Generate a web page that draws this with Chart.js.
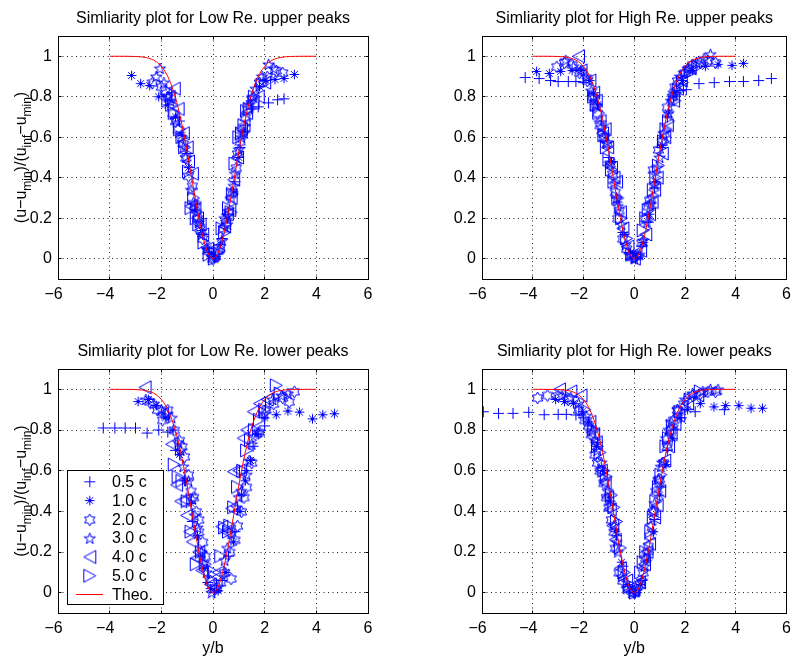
<!DOCTYPE html>
<html>
<head>
<meta charset="utf-8">
<script src="https://cdn.jsdelivr.net/npm/chart.js@4.4.0/dist/chart.umd.min.js"></script>
<style>
  html, body { margin: 0; padding: 0; background: #fff; }
  #wrap { position: relative; width: 797px; height: 660px; overflow: hidden; background: #fff; }
  #wrap canvas { position: absolute; }
</style>
</head>
<body>
<div id="wrap">
  <canvas id="p1" width="400" height="330" style="left:0;top:0"></canvas>
  <canvas id="p2" width="397" height="330" style="left:400px;top:0"></canvas>
  <canvas id="p3" width="400" height="330" style="left:0;top:330px"></canvas>
  <canvas id="p4" width="397" height="330" style="left:400px;top:330px"></canvas>
</div>
<script>
// ---- data ----
const TICKS_X = [-6, -4, -2, 0, 2, 4, 6];
const TICKS_Y = [0, 0.2, 0.4, 0.6, 0.8, 1];
const SERIES = ['0.5 c', '1.0 c', '2.0 c', '3.0 c', '4.0 c', '5.0 c'];
const THEO_LABEL = 'Theo.';
const TITLES = [
  'Simliarity plot for Low Re. upper peaks',
  'Simliarity plot for High Re. upper peaks',
  'Simliarity plot for Low Re. lower peaks',
  'Simliarity plot for High Re. lower peaks'
];

// theoretical profile (red line)
const THEO_X = [-4, -3.8, -3.6, -3.4, -3.2, -3, -2.8, -2.6, -2.4, -2.2, -2, -1.8, -1.6, -1.4, -1.2, -1, -0.8, -0.6, -0.4, -0.2, 0,
  0.2, 0.4, 0.6, 0.8, 1, 1.2, 1.4, 1.6, 1.8, 2, 2.2, 2.4, 2.6, 2.8, 3, 3.2, 3.4, 3.6, 3.8, 4];
const THEO_Y = [1, 1, 1, 0.9998, 0.9995, 0.9988, 0.9972, 0.9938, 0.9867, 0.9734, 0.9502, 0.9121, 0.8535, 0.7712, 0.6603, 0.5276, 0.3812, 0.2366, 0.1131, 0.0296, 0,
  0.0296, 0.1131, 0.2366, 0.3812, 0.5276, 0.6603, 0.7712, 0.8535, 0.9121, 0.9502, 0.9734, 0.9867, 0.9938, 0.9972, 0.9988, 0.9995, 0.9998, 1, 1, 1];

// Low Re. upper peaks  [y/b, value]
const lowUp_c05 = [[-1.6,0.82],[-1.3,0.68],[-1.0,0.52],[-0.7,0.27],[-0.4,0.12],[-0.15,0.03],[0.1,0.01],[0.35,0.1],[0.6,0.22],[0.85,0.38],[1.05,0.55],[1.25,0.66],[1.5,0.74],[1.75,0.75],[2.15,0.77],[2.5,0.785],[2.75,0.79]];
const lowUp_c10 = [[-3.15,0.905],[-2.8,0.865],[-2.45,0.855],[-2.1,0.8],[-1.75,0.76],[-1.45,0.7],[-1.2,0.61],[-0.95,0.45],[-0.7,0.24],[-0.45,0.14],[-0.2,0.05],[0.05,0.0],[0.3,0.07],[0.55,0.2],[0.8,0.33],[1.0,0.5],[1.2,0.63],[1.45,0.78],[1.8,0.85],[2.05,0.88],[2.4,0.885],[2.75,0.89],[3.15,0.91]];
const lowUp_c20 = [[-2.35,0.87],[-2.0,0.85],[-1.85,0.83],[-1.75,0.8],[-1.55,0.72],[-1.45,0.68],[-1.35,0.64],[-1.15,0.57],[-1.05,0.5],[-0.95,0.41],[-0.8,0.36],[-0.7,0.26],[-0.6,0.2],[-0.5,0.15],[-0.4,0.1],[-0.2,0.04],[0.0,0.0],[0.2,0.04],[0.4,0.15],[0.5,0.18],[0.6,0.23],[0.75,0.33],[0.9,0.45],[0.95,0.52],[1.05,0.58],[1.25,0.7],[1.35,0.74],[1.5,0.79],[1.8,0.87],[2.1,0.9],[2.45,0.93],[2.7,0.92]];
const lowUp_c30 = [[-2.05,0.94],[-2.2,0.9],[-1.9,0.87],[-1.75,0.8],[-1.65,0.78],[-1.45,0.69],[-1.25,0.6],[-1.15,0.55],[-1.05,0.5],[-0.85,0.34],[-0.75,0.28],[-0.65,0.23],[-0.55,0.18],[-0.45,0.12],[-0.25,0.05],[-0.05,0.01],[0.15,0.02],[0.35,0.09],[0.45,0.2],[0.55,0.17],[0.7,0.3],[0.8,0.36],[0.85,0.42],[1.0,0.54],[1.1,0.6],[1.2,0.62],[1.4,0.76],[1.55,0.8],[1.65,0.84],[1.9,0.9],[2.15,0.96],[2.35,0.94]];
const lowUp_c40 = [[-1.7,0.8],[-1.5,0.84],[-1.35,0.74],[-1.15,0.62],[-1.0,0.55],[-0.95,0.48],[-0.8,0.42],[-0.85,0.26],[-0.7,0.25],[-0.6,0.2],[-0.5,0.17],[-0.4,0.12],[-0.2,0.05],[0.0,0.02],[0.2,0.06],[0.45,0.16],[0.55,0.22],[0.65,0.24],[0.7,0.3],[0.8,0.39],[0.95,0.5],[1.1,0.64],[1.2,0.66],[1.3,0.72],[1.55,0.77],[1.75,0.8],[2.0,0.87]];
const lowUp_c50 = [[-1.75,0.78],[-1.6,0.76],[-1.5,0.72],[-1.3,0.64],[-1.2,0.6],[-1.1,0.55],[-0.95,0.43],[-0.85,0.25],[-0.75,0.3],[-0.65,0.2],[-0.55,0.17],[-0.35,0.08],[-0.15,0.02],[0.05,0.0],[0.25,0.04],[0.35,0.15],[0.45,0.13],[0.6,0.25],[0.7,0.23],[0.75,0.32],[0.85,0.47],[1.0,0.6],[1.1,0.62],[1.2,0.66],[1.3,0.73],[1.4,0.74],[1.6,0.8],[1.9,0.86]];

// High Re. upper peaks
const highUp_c05 = [[-4.3,0.895],[-3.75,0.89],[-3.3,0.88],[-3.0,0.875],[-2.6,0.875],[-2.3,0.875],[-2.0,0.87],[-1.6,0.82],[-1.3,0.68],[-1.0,0.5],[-0.7,0.3],[-0.45,0.13],[-0.2,0.03],[0.05,0.0],[0.3,0.06],[0.55,0.18],[0.8,0.35],[1.05,0.55],[1.3,0.7],[1.55,0.8],[1.8,0.83],[2.05,0.835],[2.55,0.865],[3.15,0.87],[3.75,0.875],[4.3,0.875],[4.9,0.88],[5.4,0.89]];
const highUp_c10 = [[-3.85,0.925],[-3.35,0.915],[-2.9,0.925],[-2.45,0.93],[-2.1,0.93],[-1.75,0.88],[-1.45,0.76],[-1.15,0.62],[-0.9,0.48],[-0.65,0.28],[-0.4,0.12],[-0.15,0.03],[0.1,0.01],[0.35,0.08],[0.6,0.22],[0.85,0.38],[1.1,0.56],[1.35,0.72],[1.6,0.82],[1.9,0.88],[2.3,0.93],[2.8,0.95],[3.3,0.96],[3.85,0.955],[4.3,0.965]];
const highUp_c20 = [[-3.05,0.95],[-2.75,0.97],[-2.45,0.96],[-2.15,0.92],[-1.85,0.88],[-1.65,0.8],[-1.55,0.75],[-1.45,0.72],[-1.35,0.66],[-1.2,0.6],[-1.05,0.57],[-0.95,0.47],[-0.85,0.42],[-0.75,0.33],[-0.65,0.2],[-0.6,0.24],[-0.45,0.1],[-0.3,0.05],[-0.1,0.01],[0.1,0.02],[0.3,0.08],[0.45,0.2],[0.55,0.26],[0.6,0.29],[0.75,0.44],[0.95,0.54],[1.1,0.58],[1.2,0.62],[1.3,0.75],[1.5,0.8],[1.6,0.85],[1.7,0.88],[2.0,0.92],[2.15,0.94],[2.3,0.96],[2.6,0.97],[2.9,0.98],[3.2,0.97]];
const highUp_c30 = [[-2.7,0.98],[-2.4,0.95],[-2.1,0.93],[-1.9,0.9],[-1.7,0.83],[-1.6,0.8],[-1.5,0.76],[-1.3,0.65],[-1.2,0.6],[-1.1,0.57],[-0.95,0.47],[-0.8,0.37],[-0.7,0.3],[-0.65,0.26],[-0.5,0.17],[-0.35,0.07],[-0.2,0.02],[0.0,0.0],[0.2,0.02],[0.35,0.09],[0.5,0.18],[0.65,0.27],[0.7,0.3],[0.8,0.37],[0.9,0.45],[1.0,0.5],[1.15,0.62],[1.35,0.72],[1.45,0.78],[1.55,0.82],[1.8,0.9],[1.95,0.92],[2.1,0.94],[2.45,0.97],[2.75,0.99],[3.0,1.01]];
const highUp_c40 = [[-2.2,1.0],[-2.1,0.93],[-1.75,0.88],[-1.6,0.82],[-1.5,0.78],[-1.35,0.68],[-1.25,0.62],[-1.15,0.64],[-1.05,0.55],[-0.9,0.45],[-0.8,0.4],[-0.7,0.38],[-0.55,0.23],[-0.45,0.15],[-0.25,0.06],[0.0,0.0],[0.25,0.04],[0.45,0.12],[0.6,0.22],[0.7,0.28],[0.8,0.34],[0.9,0.4],[1.1,0.52],[1.2,0.6],[1.3,0.66],[1.55,0.78],[1.7,0.84],[1.85,0.88],[2.2,0.94]];
const highUp_c50 = [[-1.6,0.8],[-1.5,0.76],[-1.4,0.72],[-1.2,0.61],[-1.1,0.55],[-1.0,0.49],[-0.9,0.44],[-0.8,0.38],[-0.65,0.3],[-0.5,0.2],[-0.3,0.1],[-0.1,0.02],[0.15,0.01],[0.35,0.14],[0.45,0.2],[0.55,0.24],[0.75,0.34],[0.85,0.4],[0.95,0.46],[1.15,0.58],[1.25,0.64],[1.35,0.68],[1.6,0.78],[1.75,0.83],[1.9,0.87],[2.2,0.92],[2.5,0.95]];

// Low Re. lower peaks
const lowLo_c05 = [[-4.25,0.81],[-3.8,0.81],[-3.4,0.81],[-3.0,0.81],[-2.55,0.785],[-2.1,0.8],[-1.75,0.79],[-1.45,0.7],[-1.1,0.55],[-0.8,0.35],[-0.5,0.18],[-0.2,0.05],[0.05,0.0],[0.35,0.06],[0.6,0.18],[0.85,0.3],[1.1,0.48],[1.3,0.6],[1.55,0.72],[1.75,0.78],[2.0,0.82]];
const lowLo_c10 = [[-2.9,0.94],[-2.5,0.95],[-2.2,0.92],[-1.85,0.86],[-1.55,0.8],[-1.3,0.68],[-1.05,0.55],[-0.85,0.44],[-0.6,0.28],[-0.35,0.12],[-0.1,0.02],[0.2,0.01],[0.5,0.1],[0.8,0.25],[1.05,0.4],[1.25,0.55],[1.45,0.65],[1.7,0.78],[2.0,0.86],[2.45,0.875],[2.9,0.893],[3.35,0.888],[3.85,0.855],[4.25,0.875],[4.7,0.88]];
const lowLo_c20 = [[-2.45,0.94],[-2.15,0.9],[-1.95,0.85],[-1.75,0.9],[-1.5,0.8],[-1.3,0.75],[-1.2,0.72],[-1.1,0.67],[-0.95,0.58],[-0.85,0.5],[-0.75,0.47],[-0.65,0.4],[-0.55,0.36],[-0.55,0.3],[-0.4,0.25],[-0.3,0.18],[-0.1,0.06],[0.1,0.02],[0.3,0.05],[0.45,0.1],[0.7,0.07],[0.65,0.2],[0.85,0.26],[0.95,0.33],[1.1,0.4],[1.2,0.47],[1.3,0.52],[1.5,0.64],[1.8,0.79],[2.05,0.9],[2.35,0.93],[2.7,0.96],[2.95,0.94],[3.15,0.99]];
const lowLo_c30 = [[-2.6,0.95],[-2.3,0.93],[-2.0,0.9],[-1.8,0.88],[-1.6,0.86],[-1.35,0.74],[-1.25,0.7],[-1.15,0.62],[-0.95,0.55],[-0.8,0.46],[-0.7,0.38],[-0.6,0.32],[-0.45,0.2],[-0.35,0.15],[-0.25,0.1],[-0.05,0.0],[0.2,0.03],[0.45,0.16],[0.55,0.22],[0.7,0.29],[0.9,0.42],[1.0,0.47],[1.1,0.5],[1.3,0.58],[1.4,0.65],[1.5,0.73],[1.75,0.79],[2.0,0.88],[2.3,0.95],[2.65,0.97],[2.9,0.98]];
const lowLo_c40 = [[-2.63,1.01],[-1.95,0.88],[-1.6,0.73],[-1.41,0.53],[-1.25,0.45],[-1.08,0.456],[-1.02,0.38],[-0.9,0.3],[-0.8,0.25],[-0.63,0.17],[-0.55,0.2],[-0.44,0.11],[-0.1,0.04],[0.2,0.1],[0.34,0.325],[0.5,0.3],[0.72,0.415],[0.79,0.595],[1.0,0.6],[1.17,0.76],[1.3,0.8],[1.56,0.89],[1.8,0.93],[2.1,0.95]];
const lowLo_c50 = [[-1.5,0.63],[-1.35,0.57],[-1.2,0.55],[-1.0,0.45],[-0.85,0.3],[-0.65,0.14],[-0.45,0.2],[-0.3,0.14],[0.05,0.1],[0.3,0.18],[0.45,0.32],[0.6,0.3],[0.65,0.33],[0.8,0.42],[0.95,0.52],[1.15,0.6],[1.3,0.7],[1.45,0.75],[1.6,0.8],[1.8,0.85],[2.0,0.9],[2.45,1.02],[2.6,0.98]];

// High Re. lower peaks
const highLo_c05 = [[-5.95,0.89],[-5.35,0.882],[-4.78,0.882],[-4.16,0.887],[-3.55,0.875],[-3.0,0.877],[-2.68,0.877],[-2.3,0.874],[-2.0,0.86],[-1.7,0.82],[-1.45,0.74],[-1.2,0.6],[-0.95,0.45],[-0.7,0.28],[-0.45,0.13],[-0.2,0.03],[0.05,0.0],[0.3,0.06],[0.55,0.19],[0.8,0.36],[1.05,0.52],[1.3,0.7],[1.55,0.8],[1.85,0.86],[2.4,0.89],[3.55,0.9]];
const highLo_c10 = [[-3.1,0.95],[-2.75,0.94],[-2.4,0.93],[-2.05,0.89],[-1.8,0.84],[-1.5,0.72],[-1.25,0.6],[-1.0,0.47],[-0.75,0.3],[-0.5,0.15],[-0.25,0.04],[0.0,0.0],[0.25,0.04],[0.5,0.16],[0.75,0.3],[1.0,0.48],[1.25,0.63],[1.5,0.76],[1.8,0.86],[2.1,0.9],[2.6,0.93],[3.14,0.914],[3.6,0.92],[4.12,0.92],[4.6,0.907],[5.05,0.907]];
const highLo_c20 = [[-3.81,0.96],[-3.42,0.972],[-3.0,0.97],[-2.6,0.95],[-2.2,0.9],[-1.95,0.85],[-1.8,0.82],[-1.7,0.78],[-1.55,0.68],[-1.45,0.64],[-1.35,0.6],[-1.2,0.54],[-1.1,0.47],[-1.0,0.42],[-0.9,0.36],[-0.8,0.3],[-0.75,0.22],[-0.6,0.1],[-0.45,0.06],[-0.25,0.02],[0.0,0.0],[0.25,0.04],[0.35,0.1],[0.45,0.17],[0.55,0.23],[0.6,0.28],[0.75,0.4],[0.85,0.5],[0.95,0.55],[1.0,0.56],[1.15,0.64],[1.3,0.72],[1.45,0.8],[1.55,0.85],[1.7,0.9],[1.95,0.93],[2.3,0.97],[2.6,0.98],[2.9,0.99],[3.2,0.99]];
const highLo_c30 = [[-2.85,0.97],[-2.5,0.96],[-2.2,0.93],[-1.9,0.87],[-1.65,0.8],[-1.55,0.75],[-1.45,0.7],[-1.3,0.64],[-1.15,0.55],[-1.05,0.5],[-0.95,0.43],[-0.8,0.33],[-0.7,0.25],[-0.65,0.2],[-0.5,0.08],[-0.3,0.02],[-0.1,0.0],[0.1,0.01],[0.3,0.06],[0.4,0.13],[0.5,0.2],[0.65,0.33],[0.75,0.4],[0.8,0.44],[0.95,0.56],[1.05,0.62],[1.1,0.64],[1.25,0.76],[1.35,0.8],[1.45,0.84],[1.7,0.9],[2.0,0.95],[2.3,0.98],[2.7,0.99],[3.0,1.0],[3.3,1.0]];
const highLo_c40 = [[-2.95,1.0],[-2.5,0.99],[-2.1,0.97],[-1.75,0.84],[-1.6,0.78],[-1.5,0.74],[-1.3,0.6],[-1.15,0.54],[-1.05,0.47],[-0.95,0.41],[-0.85,0.33],[-0.75,0.26],[-0.55,0.12],[-0.3,0.06],[-0.05,0.01],[0.2,0.05],[0.4,0.14],[0.5,0.2],[0.6,0.24],[0.8,0.37],[0.9,0.43],[1.0,0.5],[1.2,0.65],[1.35,0.72],[1.45,0.78],[1.6,0.83],[1.75,0.87],[2.1,0.93],[2.5,0.97]];
const highLo_c50 = [[-1.95,0.9],[-1.6,0.8],[-1.45,0.72],[-1.35,0.69],[-1.2,0.6],[-1.1,0.57],[-0.9,0.48],[-0.8,0.42],[-0.7,0.35],[-0.55,0.22],[-0.4,0.1],[-0.2,0.04],[0.05,0.0],[0.25,0.1],[0.35,0.15],[0.45,0.2],[0.65,0.3],[0.75,0.37],[0.85,0.45],[0.95,0.52],[1.05,0.58],[1.25,0.72],[1.35,0.76],[1.5,0.82],[1.8,0.89],[2.2,0.95],[2.6,0.99]];

// ---- styling ----
const BLUE = '#0000ff';
const RED = '#ff0000';
const FONT = "'Liberation Sans', Arial, Helvetica, sans-serif";

// matlab-like marker glyphs drawn once into small canvases
function makeMarker(kind) {
  const s = 19, m = 9.5;
  const c = document.createElement('canvas');
  c.width = s; c.height = s;
  const g = c.getContext('2d');
  g.strokeStyle = BLUE;
  g.lineWidth = 1;
  g.beginPath();
  if (kind === 'plus') {
    g.moveTo(m - 5.5, m); g.lineTo(m + 5.5, m);
    g.moveTo(m, m - 5.5); g.lineTo(m, m + 5.5);
  } else if (kind === 'aster') {
    const r = 4.8, d = r * 0.7071;
    g.moveTo(m - r, m); g.lineTo(m + r, m);
    g.moveTo(m, m - r); g.lineTo(m, m + r);
    g.moveTo(m - d, m - d); g.lineTo(m + d, m + d);
    g.moveTo(m - d, m + d); g.lineTo(m + d, m - d);
  } else if (kind === 'hexa' || kind === 'penta') {
    const n = kind === 'hexa' ? 6 : 5;
    const R = 6, r = kind === 'hexa' ? R / Math.sqrt(3) : R * 0.382;
    for (let k = 0; k < 2 * n; k++) {
      const ang = -Math.PI / 2 + k * Math.PI / n;
      const rr = k % 2 === 0 ? R : r;
      const px = m + rr * Math.cos(ang), py = m + 0.5 + rr * Math.sin(ang);
      if (k === 0) g.moveTo(px, py); else g.lineTo(px, py);
    }
    g.closePath();
  } else if (kind === 'triL') {
    g.moveTo(m - 6, m); g.lineTo(m + 6, m - 6.5); g.lineTo(m + 6, m + 6.5); g.closePath();
  } else if (kind === 'triR') {
    g.moveTo(m + 6, m); g.lineTo(m - 6, m - 6.5); g.lineTo(m - 6, m + 6.5); g.closePath();
  }
  g.stroke();
  return c;
}
const MARKERS = ['plus', 'aster', 'hexa', 'penta', 'triL', 'triR'].map(makeMarker);

function alignPx(v) { return Math.round(v - 0.5) + 0.5; }
function fmtX(v) { return v < 0 ? '\u2212' + (-v) + '\u2007' : String(v); }
function fmtY(v) { return String(+v.toFixed(1)); }

// text with subscripts, drawn along the current x axis of ctx
function drawRich(ctx, parts, baseSize, subSize, subDrop) {
  let total = 0;
  parts.forEach(p => {
    ctx.font = (p.sub ? subSize : baseSize) + 'px ' + FONT;
    p.w = ctx.measureText(p.t).width;
    total += p.w;
  });
  let x = -total / 2;
  parts.forEach(p => {
    ctx.font = (p.sub ? subSize : baseSize) + 'px ' + FONT;
    ctx.fillText(p.t, x, p.sub ? subDrop : 0);
    x += p.w;
  });
}

const YLABEL = [
  {t: '(u\u2212u'}, {t: 'min', sub: true}, {t: ')/(u'}, {t: 'inf', sub: true},
  {t: '\u2212u'}, {t: 'min', sub: true}, {t: ')'}
];

function panelExtras(cfg) {
  return {
    id: 'extras',
    afterDraw(chart) {
      const ctx = chart.ctx, a = chart.chartArea;
      const xs = chart.scales.x, ys = chart.scales.y;
      const L = alignPx(a.left), R = alignPx(a.right), T = alignPx(a.top), B = alignPx(a.bottom);
      ctx.save();
      ctx.setLineDash([]);
      ctx.strokeStyle = '#000';
      ctx.lineWidth = 1;
      ctx.strokeRect(L, T, R - L, B - T);
      // inward tick marks on all four sides
      ctx.beginPath();
      TICKS_X.forEach(v => {
        const p = alignPx(xs.getPixelForValue(v));
        ctx.moveTo(p, B); ctx.lineTo(p, B - 3);
        ctx.moveTo(p, T); ctx.lineTo(p, T + 3);
      });
      TICKS_Y.forEach(v => {
        const p = alignPx(ys.getPixelForValue(v));
        ctx.moveTo(L, p); ctx.lineTo(L + 3, p);
        ctx.moveTo(R, p); ctx.lineTo(R - 3, p);
      });
      ctx.stroke();

      // title
      ctx.fillStyle = '#000';
      ctx.textAlign = 'center';
      ctx.textBaseline = 'alphabetic';
      ctx.font = '16px ' + FONT;
      ctx.fillText(cfg.title, (a.left + a.right) / 2, a.top - 13);

      if (cfg.xLabel) {
        ctx.font = '16px ' + FONT;
        ctx.fillText('y/b', (a.left + a.right) / 2, chart.height - 7);
      }
      if (cfg.yLabel) {
        ctx.save();
        ctx.translate(26, (a.top + a.bottom) / 2);
        ctx.rotate(-Math.PI / 2);
        ctx.textAlign = 'left';
        drawRich(ctx, YLABEL.map(p => Object.assign({}, p)), 16, 12, 5);
        ctx.restore();
      }
      if (cfg.legend) {
        const bx = 67, by = 140, bw = 96, bh = 134;
        ctx.fillStyle = '#fff';
        ctx.fillRect(bx, by, bw, bh);
        ctx.strokeStyle = '#000';
        ctx.strokeRect(bx + 0.5, by + 0.5, bw, bh);
        ctx.font = '16px ' + FONT;
        ctx.textAlign = 'left';
        ctx.textBaseline = 'middle';
        ctx.fillStyle = '#000';
        const labels = SERIES.concat([THEO_LABEL]);
        labels.forEach((lab, i) => {
          const cy = 151.5 + i * 18.8;
          if (i < MARKERS.length) {
            const img = MARKERS[i];
            ctx.drawImage(img, 89.8 - img.width / 2, cy + 0.3 - img.height / 2);
          } else {
            ctx.strokeStyle = RED;
            ctx.beginPath();
            ctx.moveTo(76, Math.round(cy) + 0.5);
            ctx.lineTo(103, Math.round(cy) + 0.5);
            ctx.stroke();
          }
          ctx.fillText(lab, 112, cy + 1);
        });
      }
      ctx.restore();
    }
  };
}

function buildPanel(id, cfg) {
  const datasets = [{
    type: 'line',
    label: THEO_LABEL,
    data: THEO_X.map((x, i) => ({x: x, y: THEO_Y[i]})),
    borderColor: RED,
    borderWidth: 1,
    pointRadius: 0,
    fill: false,
    cubicInterpolationMode: 'monotone',
    order: 0
  }];
  cfg.series.forEach((pts, i) => {
    datasets.push({
      type: 'scatter',
      label: SERIES[i],
      data: pts.map(p => ({x: p[0], y: p[1]})),
      pointStyle: MARKERS[i],
      pointRadius: 5,
      order: 1
    });
  });

  const tickFont = {family: FONT, size: 16};
  return new Chart(document.getElementById(id), {
    type: 'scatter',
    data: {datasets: datasets},
    options: {
      responsive: false,
      animation: false,
      devicePixelRatio: 1,
      events: [],
      layout: {padding: {left: 0, top: cfg.top, right: cfg.right, bottom: 0}},
      plugins: {legend: {display: false}, title: {display: false}, tooltip: {enabled: false}},
      scales: {
        x: {
          type: 'linear', min: -6, max: 6,
          afterBuildTicks: s => { s.ticks = TICKS_X.map(v => ({value: v})); },
          afterFit: s => { s.height = cfg.bottomH; },
          grid: {color: '#222', lineWidth: 1, drawTicks: false, borderDash: [1, 3.5]},
          border: {display: false, dash: [1, 3.5]},
          ticks: {font: tickFont, color: '#000', padding: 6, maxRotation: 0, autoSkip: false, callback: v => fmtX(v)}
        },
        y: {
          type: 'linear', min: -0.1, max: 1.1,
          afterBuildTicks: s => { s.ticks = TICKS_Y.map(v => ({value: v})); },
          afterFit: s => { s.width = cfg.left; },
          grid: {color: '#222', lineWidth: 1, drawTicks: false, borderDash: [1, 3.5]},
          border: {display: false, dash: [1, 3.5]},
          ticks: {font: tickFont, color: '#000', padding: 6, autoSkip: false, callback: v => fmtY(v)}
        }
      }
    },
    plugins: [panelExtras(cfg)]
  });
}

buildPanel('p1', {title: TITLES[0], left: 58, right: 32, top: 36, bottomH: 51, yLabel: true,
  series: [lowUp_c05, lowUp_c10, lowUp_c20, lowUp_c30, lowUp_c40, lowUp_c50]});
buildPanel('p2', {title: TITLES[1], left: 82, right: 7, top: 36, bottomH: 51,
  series: [highUp_c05, highUp_c10, highUp_c20, highUp_c30, highUp_c40, highUp_c50]});
buildPanel('p3', {title: TITLES[2], left: 58, right: 32, top: 39, bottomH: 47, yLabel: true, xLabel: true, legend: true,
  series: [lowLo_c05, lowLo_c10, lowLo_c20, lowLo_c30, lowLo_c40, lowLo_c50]});
buildPanel('p4', {title: TITLES[3], left: 82, right: 7, top: 39, bottomH: 47, xLabel: true,
  series: [highLo_c05, highLo_c10, highLo_c20, highLo_c30, highLo_c40, highLo_c50]});
</script>
</body>
</html>
